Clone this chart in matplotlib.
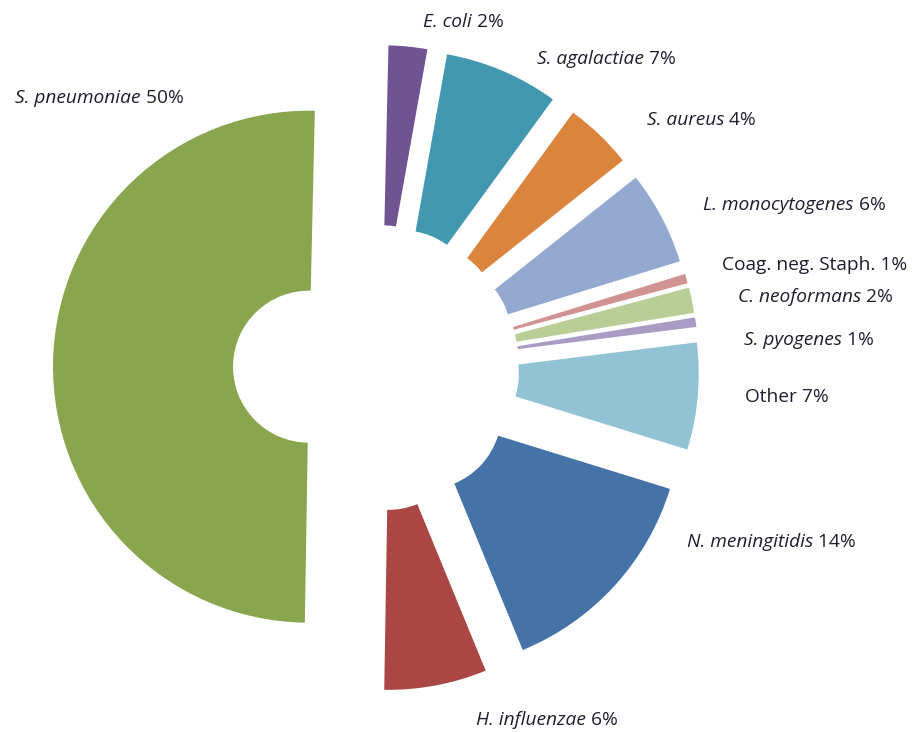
import matplotlib.pyplot as plt

# Causative organisms and their share of cases (per cent)
species = ["E. coli", "S. agalactiae", "S. aureus", "L. monocytogenes",
           "Coag. neg. Staph.", "C. neoformans", "S. pyogenes", "Other",
           "N. meningitidis", "H. influenzae", "S. pneumoniae"]
share = [2.44, 7.22, 4.31, 5.92, 0.60, 1.60, 0.60, 6.75, 14.03, 6.47, 50.14]
italic_name = [True, True, True, True, False, True, True, False, True, True, True]

colors = ["#6F5491", "#4298AF", "#DB843D", "#93A9CF", "#D19392", "#B9CD96",
          "#A99BC3", "#92C3D4", "#4572A7", "#AA4643", "#89A54E"]

# label anchors: left edge and text baseline, in pixels from the top-left
label_pos = [(423, 27), (537, 64), (647, 125), (703, 210), (722, 270),
             (738, 302), (744, 345), (745, 402), (687, 547), (476, 725),
             (15, 103)]

W, H = 913, 732
fig = plt.figure(figsize=(W / 100, H / 100), dpi=100)
ax = fig.add_axes([0, 0, 1, 1])

R_OUT, R_IN, OFFSET = 256, 76, 67
center = (376, H - 368)

ax.pie(share, colors=colors, startangle=88.7, counterclock=False,
       radius=R_OUT, center=center, explode=[OFFSET] * len(share),
       wedgeprops=dict(width=R_OUT - R_IN, linewidth=0))
ax.set_xlim(0, W)
ax.set_ylim(0, H)
ax.set_aspect("equal")
ax.axis("off")

total = sum(share)
font = dict(family="Open Sans", fontsize=13.8, color="#1E1E2E")
for name, value, ital, (px, py) in zip(species, share, italic_name, label_pos):
    pct = f"{round(value / total * 100)}%"
    if ital:
        t = ax.text(px, H - py, name, style="italic", ha="left", va="baseline", **font)
        ax.annotate(" " + pct, xy=(1, 0), xycoords=t, ha="left", va="bottom", **font)
    else:
        ax.text(px, H - py, f"{name} {pct}", ha="left", va="baseline", **font)

fig.savefig("out.png", dpi=100, facecolor="white")
